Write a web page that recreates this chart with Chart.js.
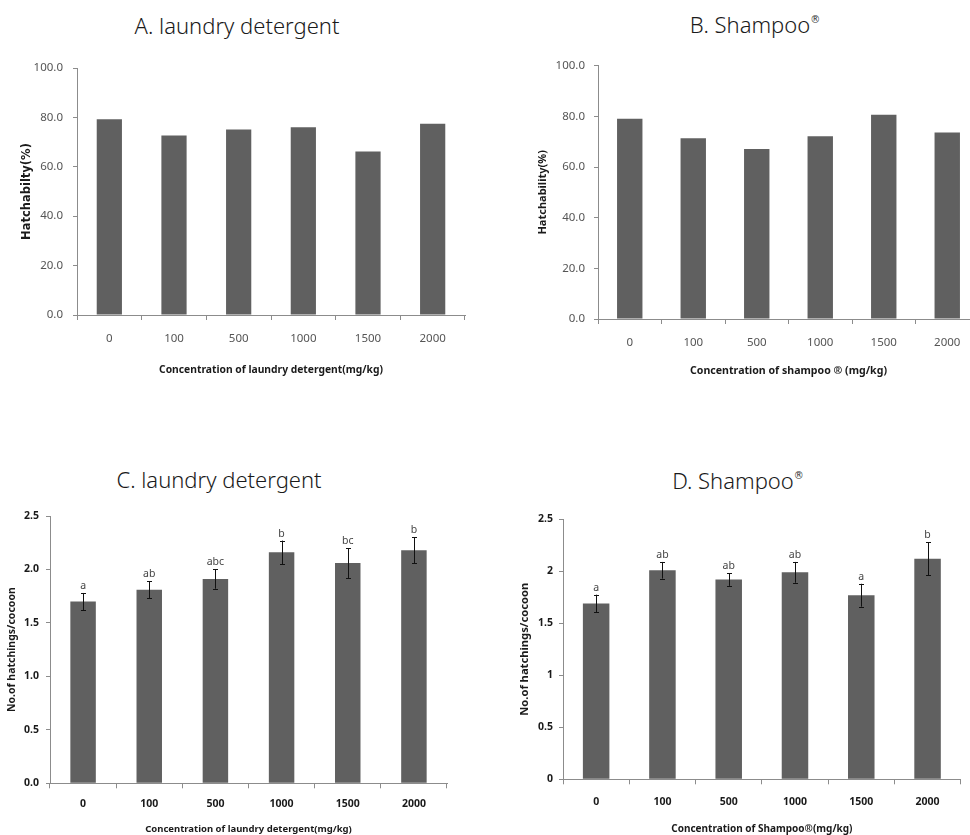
<!DOCTYPE html>
<html>
<head>
<meta charset="utf-8">
<script src="https://cdn.jsdelivr.net/npm/chart.js@4.4.1/dist/chart.umd.min.js"></script>
<style>
  html, body { margin: 0; padding: 0; width: 970px; height: 835px; overflow: hidden; background: #fff; }
  canvas { position: absolute; }
  .title { position: absolute; font-family: "Noto Sans", sans-serif; font-weight: 300; font-size: 22px; color: #1a1a1a;
           white-space: nowrap; line-height: 1; transform: translate(-50%, -50%); }
  .title sup { font-family: "DejaVu Sans", sans-serif; font-weight: normal; font-size: 10px; vertical-align: 10px; color: #333; }
</style>
</head>
<body>
<div class="title" style="left:237px; top:25px">A. laundry detergent</div>
<div class="title" style="left:755px; top:24px">B. Shampoo<sup>®</sup></div>
<div class="title" style="left:219px; top:479px">C. laundry detergent</div>
<div class="title" style="left:738px; top:480px">D. Shampoo<sup>®</sup></div>

<canvas id="chartA" width="490" height="350" style="left:0px; top:40px"></canvas>
<canvas id="chartB" width="500" height="350" style="left:490px; top:40px"></canvas>
<canvas id="chartC" width="490" height="350" style="left:0px; top:490px"></canvas>
<canvas id="chartD" width="480" height="350" style="left:490px; top:490px"></canvas>

<script>
// concentrations (mg/kg)
const concentrations = ["0", "100", "500", "1000", "1500", "2000"];

// hatchability (%)
const hatchLaundry = [79.3, 72.7, 75.1, 76.0, 66.2, 77.4];
const hatchShampoo = [79.1, 71.4, 67.1, 72.1, 80.6, 73.6];

// no. of hatchlings per cocoon, with error and significance letters
const numLaundry = [1.70, 1.81, 1.91, 2.16, 2.06, 2.18];
const errLaundry = [0.08, 0.08, 0.09, 0.11, 0.14, 0.12];
const lettersLaundry = ["a", "ab", "abc", "b", "bc", "b"];

const numShampoo = [1.69, 2.01, 1.92, 1.99, 1.77, 2.12];
const errShampoo = [0.085, 0.08, 0.06, 0.10, 0.11, 0.16];
const lettersShampoo = ["a", "ab", "ab", "ab", "a", "b"];

// y tick values and labels
const hatchTicks = [0, 20, 40, 60, 80, 100];
const hatchTickLabels = ["0.0", "20.0", "40.0", "60.0", "80.0", "100.0"];
const numTicks = [0, 0.5, 1, 1.5, 2, 2.5];
const numTickLabelsC = ["0.0", "0.5", "1.0", "1.5", "2.0", "2.5"];
const numTickLabelsD = ["0", "0.5", "1", "1.5", "2", "2.5"];

const axisGrey = "#8c8c8c";
const barGrey = "#606060";
const sans = '"Noto Sans", sans-serif';
const wide = '"DejaVu Sans", sans-serif';

const errorBarPlugin = {
    id: "errorBars",
    afterDatasetsDraw(chart, args, opts) {
        if (!opts || !opts.errors) return;
        const ctx = chart.ctx;
        const yScale = chart.scales.y;
        const meta = chart.getDatasetMeta(0);
        const values = chart.data.datasets[0].data;
        ctx.save();
        meta.data.forEach((bar, i) => {
            const top = yScale.getPixelForValue(values[i] + opts.errors[i]);
            const bot = yScale.getPixelForValue(values[i] - opts.errors[i]);
            const x = Math.round(bar.x) + 0.5;
            ctx.strokeStyle = "#111";
            ctx.lineWidth = 1;
            ctx.beginPath();
            ctx.moveTo(x, top);
            ctx.lineTo(x, bot);
            ctx.moveTo(x - 2.5, Math.round(top) + 0.5);
            ctx.lineTo(x + 2.5, Math.round(top) + 0.5);
            ctx.moveTo(x - 2.5, Math.round(bot) + 0.5);
            ctx.lineTo(x + 2.5, Math.round(bot) + 0.5);
            ctx.stroke();
            ctx.fillStyle = "#444";
            ctx.font = "10.5px " + sans;
            ctx.textAlign = "center";
            ctx.textBaseline = "alphabetic";
            ctx.fillText(opts.letters[i], bar.x, top - 4);
        });
        ctx.restore();
    }
};

function drawPanel(id, box, g, cfg) {
    const titleLh = cfg.titleSize * 1.2;
    const plotLeft = g.axisX - box.x;
    const plotTop = g.top - box.y;
    const plotRight = g.right - box.x;
    const plotBottom = g.bottom - box.y;
    const xHeight = g.xTitleY - g.bottom + titleLh / 2;
    const yTitleLh = cfg.yTitleSize * 1.2;
    const xTickPad = g.xLabelY - g.bottom - 5 - cfg.tickSize * 0.6;

    new Chart(document.getElementById(id), {
        type: "bar",
        data: {
            labels: concentrations,
            datasets: [{
                data: cfg.values,
                backgroundColor: barGrey,
                borderWidth: 0,
                barPercentage: cfg.barPct,
                categoryPercentage: 1
            }]
        },
        options: {
            responsive: false,
            animation: false,
            layout: {
                padding: { left: 0, top: plotTop, right: box.w - plotRight, bottom: box.h - plotBottom - xHeight }
            },
            plugins: {
                legend: { display: false },
                tooltip: { enabled: false },
                errorBars: cfg.errorBars || false
            },
            scales: {
                x: {
                    grid: { display: true, drawOnChartArea: false, offset: true, color: axisGrey, tickLength: 5 },
                    border: { color: axisGrey },
                    ticks: {
                        font: { family: sans, size: cfg.tickSize, weight: cfg.tickWeight },
                        color: cfg.tickColor,
                        padding: xTickPad
                    },
                    title: {
                        display: true,
                        text: cfg.xTitle,
                        font: { family: sans, size: cfg.titleSize, weight: "bold" },
                        color: "#1a1a1a",
                        padding: 0
                    },
                    afterFit: (s) => { s.height = xHeight; }
                },
                y: {
                    min: 0,
                    max: cfg.yTicks[cfg.yTicks.length - 1],
                    afterBuildTicks: (s) => { s.ticks = cfg.yTicks.map((v) => ({ value: v })); },
                    ticks: {
                        callback: (v, i) => cfg.yLabels[i],
                        font: { family: sans, size: cfg.tickSize, weight: cfg.tickWeight },
                        color: cfg.tickColor,
                        padding: g.yLabelGap - 4
                    },
                    grid: { display: true, drawOnChartArea: false, color: axisGrey, tickLength: 4 },
                    border: { color: axisGrey },
                    title: {
                        display: true,
                        text: cfg.yTitle,
                        font: { family: cfg.yTitleFont || sans, size: cfg.yTitleSize, weight: "bold" },
                        color: "#1a1a1a",
                        padding: { top: g.yTitleX - box.x - yTitleLh / 2, bottom: 0 }
                    },
                    afterFit: (s) => { s.width = plotLeft; }
                }
            }
        },
        plugins: [errorBarPlugin]
    });
}

drawPanel("chartA", { x: 0, y: 40, w: 490, h: 350 },
    { axisX: 77, top: 68, right: 465, bottom: 315, xTitleY: 370, xLabelY: 339, yTitleX: 27, yLabelGap: 14 },
    { values: hatchLaundry, barPct: 0.39, yTicks: hatchTicks, yLabels: hatchTickLabels,
      tickSize: 11.5, tickWeight: "normal", tickColor: "#555", titleSize: 10.3, yTitleSize: 11.5, yTitleFont: wide,
      xTitle: "Concentration of laundry detergent(mg/kg)", yTitle: "Hatchabilty(%)" });

drawPanel("chartB", { x: 490, y: 40, w: 500, h: 350 },
    { axisX: 598, top: 65.7, right: 979, bottom: 319, xTitleY: 371, xLabelY: 342.7, yTitleX: 543, yLabelGap: 13 },
    { values: hatchShampoo, barPct: 0.40, yTicks: hatchTicks, yLabels: hatchTickLabels,
      tickSize: 11.5, tickWeight: "normal", tickColor: "#555", titleSize: 10.6, yTitleSize: 11,
      xTitle: "Concentration of shampoo ® (mg/kg)", yTitle: "Hatchability(%)" });

drawPanel("chartC", { x: 0, y: 490, w: 490, h: 350 },
    { axisX: 50, top: 516, right: 447, bottom: 783.3, xTitleY: 829, xLabelY: 804.3, yTitleX: 12, yLabelGap: 11 },
    { values: numLaundry, barPct: 0.385, yTicks: numTicks, yLabels: numTickLabelsC,
      tickSize: 10.5, tickWeight: "bold", tickColor: "#1a1a1a", titleSize: 9.5, yTitleSize: 10.5,
      xTitle: "Concentration of laundry detergent(mg/kg)", yTitle: "No.of hatchings/cocoon",
      errorBars: { errors: errLaundry, letters: lettersLaundry } });

drawPanel("chartD", { x: 490, y: 490, w: 480, h: 350 },
    { axisX: 563, top: 519.3, right: 960.7, bottom: 779.3, xTitleY: 829, xLabelY: 801.7, yTitleX: 525, yLabelGap: 10 },
    { values: numShampoo, barPct: 0.40, yTicks: numTicks, yLabels: numTickLabelsD,
      tickSize: 10.5, tickWeight: "bold", tickColor: "#1a1a1a", titleSize: 10, yTitleSize: 11.2,
      xTitle: "Concentration of Shampoo®(mg/kg)", yTitle: "No.of hatchings/cocoon",
      errorBars: { errors: errShampoo, letters: lettersShampoo } });
</script>
</body>
</html>
